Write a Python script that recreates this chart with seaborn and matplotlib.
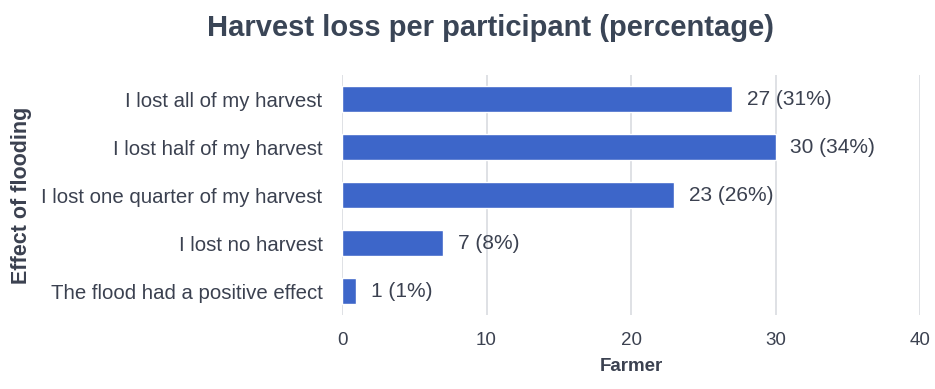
import pandas as pd
import seaborn as sns
import matplotlib.pyplot as plt

categories = ['I lost all of my harvest', 'I lost half of my harvest',
              'I lost one quarter of my harvest', 'I lost no harvest',
              'The flood had a positive effect']
farmers = [27, 30, 23, 7, 1]
percents = [31, 34, 26, 8, 1]

df = pd.DataFrame({'effect': categories, 'farmers': farmers, 'pct': percents})

sns.set_theme(style='white')
plt.rcParams['font.family'] = ['Liberation Sans', 'DejaVu Sans']
text_col = '#3b4150'

fig = plt.figure(figsize=(9.35, 3.89), dpi=100)
ax = fig.add_axes([0.3658, 0.19, 0.6182, 0.617])

sns.barplot(data=df, x='farmers', y='effect', color='#3d66c9', saturation=1,
            width=0.55, ax=ax, zorder=3)

for i, row in df.iterrows():
    ax.text(row['farmers'] + 1.0, i, f"{row['farmers']} ({row['pct']}%)",
            va='center', ha='left', fontsize=15, color=text_col)

ax.set_xlim(0, 40)
ax.set_xticks([0, 10, 20, 30, 40])
ax.grid(axis='x', color='#d9dbe0', linewidth=1.2, zorder=0)
for s in ax.spines.values():
    s.set_visible(False)
ax.tick_params(axis='x', labelsize=13.5, colors=text_col, pad=12, length=0)
ax.tick_params(axis='y', labelsize=14.7, colors=text_col, pad=14, length=0)

ax.set_xlabel('Farmer', fontsize=13.5, fontweight='bold', color=text_col, labelpad=7)
ax.set_ylabel('Effect of flooding', fontsize=15.5, fontweight='bold', color=text_col)
ax.yaxis.set_label_coords(-0.537, 0.5)

fig.suptitle('Harvest loss per participant (percentage)', x=0.525, y=0.965,
             fontsize=21, fontweight='bold', color='#3a4556')

fig.savefig('out.png', dpi=100)
